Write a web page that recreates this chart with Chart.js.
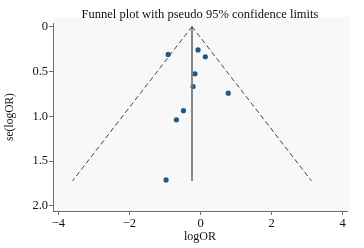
<!DOCTYPE html>
<html>
<head>
<meta charset="utf-8">
<script src="https://cdn.jsdelivr.net/npm/chart.js@4/dist/chart.umd.min.js"></script>
<style>
  html, body { margin: 0; padding: 0; background: #fff; }
  #wrap { width: 364px; height: 248px; }
</style>
</head>
<body>
<div id="wrap"><canvas id="c" width="364" height="248"></canvas></div>
<script>
// study estimates
const logOR = [-0.91, -0.07, 0.135, -0.155, -0.21, 0.78, -0.48, -0.68, -0.97];
const seLogOR = [0.31, 0.26, 0.336, 0.526, 0.668, 0.742, 0.937, 1.04, 1.71];

// pooled estimate line and pseudo 95% limits
const pooledLine = [{ x: -0.24, y: 0 }, { x: -0.24, y: 1.72 }];
const lowerLimit = [{ x: -0.24, y: 0 }, { x: -3.6, y: 1.72 }];
const upperLimit = [{ x: -0.24, y: 0 }, { x: 3.12, y: 1.72 }];

const xTicks = [-4, -2, 0, 2, 4];
const yTicks = [0, 0.5, 1, 1.5, 2];
const yTickLabels = ['0', '0.5', '1.0', '1.5', '2.0'];

const serif = "'Liberation Serif', 'DejaVu Serif', serif";
const axisGray = '#6e6e6e';

const plotBg = {
  id: 'plotBg',
  beforeDraw(chart) {
    const a = chart.chartArea;
    const ctx = chart.ctx;
    ctx.save();
    ctx.fillStyle = '#f8f8f8';
    ctx.fillRect(a.left, a.top - 6, a.right - a.left + 3, a.bottom - a.top + 6);
    ctx.restore();
  },
};

new Chart(document.getElementById('c'), {
  type: 'scatter',
  data: {
    datasets: [
      {
        data: lowerLimit,
        showLine: true,
        borderColor: '#444',
        borderWidth: 1,
        borderDash: [5, 3],
        pointRadius: 0,
      },
      {
        data: upperLimit,
        showLine: true,
        borderColor: '#444',
        borderWidth: 1,
        borderDash: [5, 3],
        pointRadius: 0,
      },
      {
        data: pooledLine,
        showLine: true,
        borderColor: '#777',
        borderWidth: 1,
        pointRadius: 0,
      },
      {
        data: logOR.map((v, i) => ({ x: v, y: seLogOR[i] })),
        backgroundColor: '#22587f',
        borderColor: '#22587f',
        pointRadius: 2.6,
        borderWidth: 0,
      },
    ],
  },
  options: {
    responsive: false,
    animation: false,
    layout: { padding: { left: 3, right: 17, top: 0, bottom: 4 } },
    plugins: {
      legend: { display: false },
      tooltip: { enabled: false },
      title: {
        display: true,
        fullSize: false,
        text: 'Funnel plot with pseudo 95% confidence limits',
        color: '#111',
        font: { family: serif, size: 12.5, weight: 'normal' },
        padding: { top: 7, bottom: 1 },
      },
    },
    scales: {
      x: {
        type: 'linear',
        min: -4.15,
        max: 4.12,
        afterBuildTicks: (s) => { s.ticks = xTicks.map(v => ({ value: v })); },
        afterFit: (s) => { s.height = 33; },
        border: { color: axisGray, width: 1 },
        grid: { drawOnChartArea: false, tickLength: 4, color: axisGray },
        ticks: {
          color: '#111',
          padding: 1,
          font: { family: serif, size: 12.5 },
          callback: (v) => String(v).replace('-', '\u2212'),
        },
        title: {
          display: true,
          text: 'logOR',
          color: '#111',
          font: { family: serif, size: 12 },
          padding: { top: 0, bottom: 0 },
        },
      },
      y: {
        type: 'linear',
        reverse: true,
        min: -0.04,
        max: 2.056,
        afterBuildTicks: (s) => { s.ticks = yTicks.map(v => ({ value: v })); },
        afterFit: (s) => { s.width = 50; },
        border: { color: axisGray, width: 1 },
        grid: { drawOnChartArea: false, tickLength: 4, color: axisGray },
        ticks: {
          color: '#111',
          padding: 1,
          font: { family: serif, size: 12.5 },
          callback: (v) => yTickLabels[yTicks.indexOf(v)],
        },
        title: {
          display: true,
          text: 'se(logOR)',
          color: '#111',
          font: { family: serif, size: 11.5 },
          padding: { top: 0, bottom: 2 },
        },
      },
    },
  },
  plugins: [plotBg],
});
</script>
</body>
</html>
